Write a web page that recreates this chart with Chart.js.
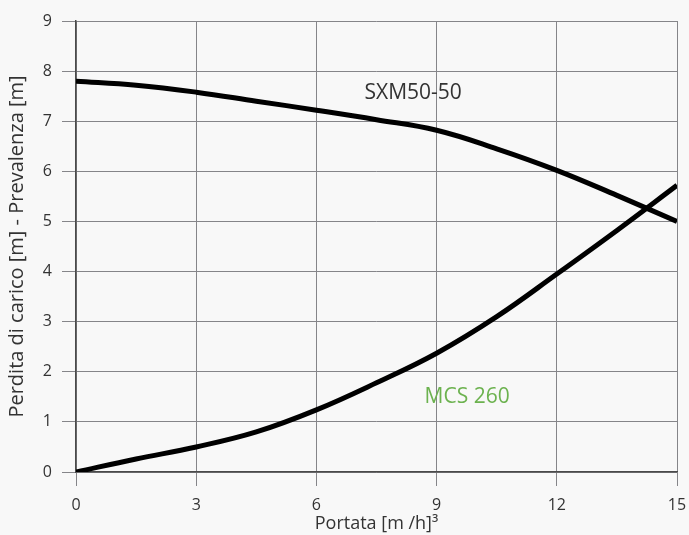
<!DOCTYPE html>
<html>
<head>
<meta charset="utf-8">
<script src="https://cdn.jsdelivr.net/npm/chart.js@4"></script>
<style>
  html, body { margin: 0; padding: 0; background: #f8f8f8; }
  #wrap { width: 689px; height: 535px; }
</style>
</head>
<body>
<div id="wrap"><canvas id="pumpChart" width="689" height="535"></canvas></div>
<script>
// portata (m3/h) and the two curves
const flow = [0, 1.5, 3, 4.5, 6, 7.5, 9, 10.5, 12, 13.5, 15];
const sxm = [7.8, 7.72, 7.58, 7.4, 7.22, 7.03, 6.82, 6.45, 6.02, 5.52, 5.0];
const mcs = [0, 0.26, 0.5, 0.8, 1.24, 1.78, 2.37, 3.1, 3.95, 4.82, 5.72];
const xTicks = [0, 3, 6, 9, 12, 15];
const seriesNames = ['SXM50-50', 'MCS 260'];

const toPoints = ys => flow.map((x, i) => ({ x: x, y: ys[i] }));

// curve labels, placed in data units
const curveLabels = [
  { text: seriesNames[0], x: 7.2, y: 7.57, color: '#333333' },
  { text: seriesNames[1], x: 8.7, y: 1.5, color: '#6cb24f' }
];

const bgPlugin = {
  id: 'bg',
  beforeDraw: chart => {
    const c = chart.ctx;
    c.save();
    c.fillStyle = '#f8f8f8';
    c.fillRect(0, 0, chart.width, chart.height);
    c.restore();
  }
};

const labelPlugin = {
  id: 'curveLabels',
  afterDatasetsDraw: chart => {
    const c = chart.ctx;
    const xs = chart.scales.x, ys = chart.scales.y;
    c.save();
    c.font = '21px "Open Sans", sans-serif';
    c.textBaseline = 'middle';
    c.textAlign = 'left';
    curveLabels.forEach(l => {
      c.fillStyle = l.color;
      c.fillText(l.text, xs.getPixelForValue(l.x), ys.getPixelForValue(l.y));
    });
    c.restore();
  }
};

const ctx = document.getElementById('pumpChart').getContext('2d');
const chart = new Chart(ctx, {
  type: 'line',
  data: {
    datasets: [
      { label: seriesNames[0], data: toPoints(sxm), borderColor: '#000', borderWidth: 5,
        pointRadius: 0, tension: 0.4, fill: false },
      { label: seriesNames[1], data: toPoints(mcs), borderColor: '#000', borderWidth: 5,
        pointRadius: 0, tension: 0.4, fill: false }
    ]
  },
  options: {
    responsive: false,
    animation: false,
    layout: { padding: { top: 21, right: 12, left: 5, bottom: 0 } },
    plugins: { legend: { display: false }, tooltip: { enabled: false } },
    scales: {
      x: {
        type: 'linear', min: 0, max: 15,
        afterBuildTicks: s => { s.ticks = xTicks.map(v => ({ value: v })); },
        afterFit: s => { s.height = 63; s.paddingLeft = 0; s.paddingRight = 0; },
        grid: { color: '#858589', lineWidth: 1, tickLength: 14, drawTicks: true },
        border: { color: '#4a4a4a', width: 1.5 },
        ticks: { color: '#333', font: { family: 'Open Sans', size: 16 }, padding: 10, maxRotation: 0 },
        title: { display: true, text: 'Portata [m /h]\u00b3', color: '#333',
                 font: { family: 'Open Sans', size: 18 }, padding: { top: 0, bottom: 0 } }
      },
      y: {
        min: 0, max: 9,
        ticks: { stepSize: 1, color: '#333', font: { family: 'Open Sans', size: 16 }, padding: 10 },
        afterFit: s => { s.width = 71; s.paddingTop = 0; s.paddingBottom = 0; },
        grid: { color: '#858589', lineWidth: 1, tickLength: 14, drawTicks: true },
        border: { color: '#4a4a4a', width: 1.5 },
        title: { display: true, text: 'Perdita di carico [m] - Prevalenza [m]', color: '#333',
                 font: { family: 'Open Sans', size: 20 }, padding: { top: 0, bottom: 0 } }
      }
    }
  },
  plugins: [bgPlugin, labelPlugin]
});
</script>
</body>
</html>
